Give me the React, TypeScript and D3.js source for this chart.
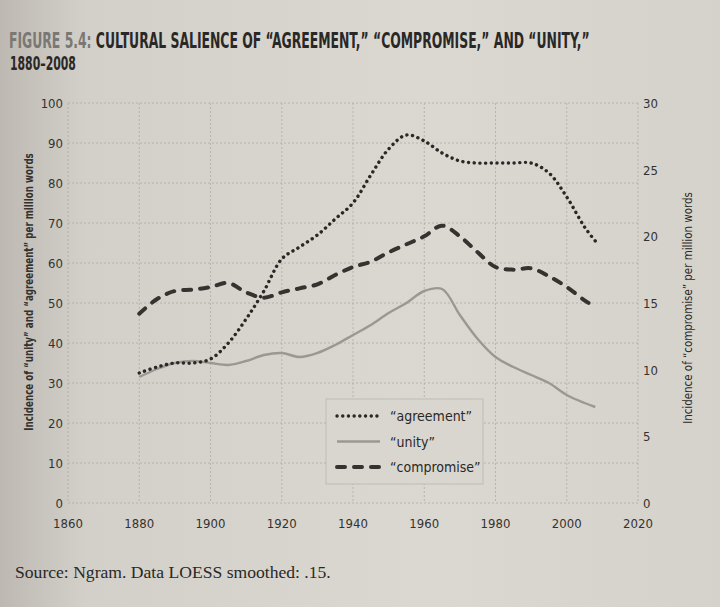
import React, { useEffect, useRef } from 'react';
import * as d3 from 'd3';

// values (LOESS-smoothed Ngram frequencies)
const years = [1880, 1885, 1890, 1895, 1900, 1905, 1910, 1915, 1920, 1925, 1930, 1935, 1940, 1945, 1950, 1955, 1960, 1965, 1970, 1975, 1980, 1985, 1990, 1995, 2000, 2005, 2008];
const agreement = [32.5, 34, 35, 35, 36, 40, 46, 53, 61, 64, 67, 71, 75, 82, 88.5, 92, 90.5, 87.5, 85.5, 85, 85, 85, 85, 82.5, 76.5, 69, 65.5];
const unity = [31.5, 33.5, 35, 35.5, 35, 34.5, 35.5, 37, 37.5, 36.5, 37.5, 39.5, 42, 44.5, 47.5, 50, 53, 53.5, 47, 41, 36.5, 34, 32, 30, 27, 25, 24];
const compromise = [14.2, 15.3, 15.9, 16, 16.2, 16.5, 15.8, 15.4, 15.8, 16.1, 16.4, 17.1, 17.7, 18.1, 18.8, 19.4, 20, 20.8, 20, 18.8, 17.7, 17.5, 17.6, 17, 16.2, 15.2, 14.7];

const xTicks = [1860, 1880, 1900, 1920, 1940, 1960, 1980, 2000, 2020];
const leftTicks = [0, 10, 20, 30, 40, 50, 60, 70, 80, 90, 100];
const rightTicks = [0, 5, 10, 15, 20, 25, 30];

const legendItems = ['\u201Cagreement\u201D', '\u201Cunity\u201D', '\u201Ccompromise\u201D'];

const condensed = "'Liberation Sans Narrow', 'DejaVu Sans Condensed', 'Roboto', sans-serif";

// squeeze/stretch a text horizontally so it spans `target` px
const fitText = (sel, x, y, target, rotate = 0) => {
  const len = (sel.node() as SVGTextElement).getComputedTextLength() || target;
  sel.attr('transform', `translate(${x},${y}) rotate(${rotate}) scale(${target / len},1)`);
};

const App = () => {
  const svgRef = useRef(null);

  useEffect(() => {
    const width = 720;
    const height = 607;
    const plot = { left: 68, right: 638, top: 103, bottom: 503 };

    d3.select(svgRef.current).selectAll('*').remove();

    const svg = d3.select(svgRef.current)
      .attr('width', width)
      .attr('height', height);

    // paper background
    const defs = svg.append('defs');
    const grad = defs.append('linearGradient').attr('id', 'paper').attr('x1', 0).attr('x2', 1).attr('y1', 0).attr('y2', 0);
    grad.append('stop').attr('offset', '0%').attr('stop-color', '#bdb9b2');
    grad.append('stop').attr('offset', '12%').attr('stop-color', '#d3d0ca');
    grad.append('stop').attr('offset', '60%').attr('stop-color', '#dbd8d2');
    grad.append('stop').attr('offset', '100%').attr('stop-color', '#d5d2cc');
    svg.append('rect').attr('width', width).attr('height', height).attr('fill', 'url(#paper)');

    // title
    const t1 = svg.append('text')
      .style('font-family', condensed).style('font-weight', 700).style('font-size', '21px')
      .attr('fill', '#2a2826');
    t1.append('tspan').attr('fill', '#7a7874').text('FIGURE 5.4: ');
    t1.append('tspan').text('CULTURAL SALIENCE OF \u201CAGREEMENT,\u201D \u201CCOMPROMISE,\u201D AND \u201CUNITY,\u201D');
    fitText(t1, 9, 48, 581);

    const t2 = svg.append('text')
      .style('font-family', condensed).style('font-weight', 700).style('font-size', '19px')
      .attr('fill', '#2a2826')
      .text('1880\u20132008');
    fitText(t2, 10, 70, 66);

    // scales
    const x = d3.scaleLinear().domain([1860, 2020]).range([plot.left, plot.right]);
    const yLeft = d3.scaleLinear().domain([0, 100]).range([plot.bottom, plot.top]);
    const yRight = d3.scaleLinear().domain([0, 30]).range([plot.bottom, plot.top]);

    // gridlines
    const grid = svg.append('g')
      .attr('stroke', '#aeaaa3')
      .attr('stroke-width', 0.8)
      .attr('stroke-dasharray', '2,2');
    grid.selectAll('line.v').data(xTicks).join('line')
      .attr('x1', d => x(d)).attr('x2', d => x(d))
      .attr('y1', plot.top).attr('y2', plot.bottom);
    grid.selectAll('line.h').data(leftTicks).join('line')
      .attr('x1', plot.left).attr('x2', plot.right)
      .attr('y1', d => yLeft(d)).attr('y2', d => yLeft(d));

    // axis labels
    const tickStyle = (sel) => sel
      .style('font-family', condensed).style('font-size', '13px').attr('fill', '#34322f');

    svg.append('g').selectAll('text').data(leftTicks).join('text')
      .attr('x', plot.left - 5).attr('y', d => yLeft(d) + 5)
      .attr('text-anchor', 'end')
      .call(tickStyle)
      .text(d => d);

    svg.append('g').selectAll('text').data(rightTicks).join('text')
      .attr('x', plot.right + 5).attr('y', d => yRight(d) + 5)
      .attr('text-anchor', 'start')
      .call(tickStyle)
      .text(d => d);

    svg.append('g').selectAll('text').data(xTicks).join('text')
      .attr('x', d => x(d)).attr('y', plot.bottom + 25)
      .attr('text-anchor', 'middle')
      .call(tickStyle)
      .text(d => d);

    const yl = svg.append('text')
      .attr('text-anchor', 'middle')
      .style('font-family', condensed).style('font-weight', 700).style('font-size', '11.5px')
      .attr('fill', '#34322f')
      .text('Incidence of \u201Cunity\u201D and \u201Cagreement\u201D per million words');
    fitText(yl, 33, 292, 278, -90);

    const yr = svg.append('text')
      .attr('text-anchor', 'middle')
      .style('font-family', condensed).style('font-size', '13px')
      .attr('fill', '#2a2826')
      .text('Incidence of \u201Ccompromise\u201D per million words');
    fitText(yr, 692, 308, 232, -90);

    // lines
    const lineLeft = d3.line<number>()
      .x((_, i) => x(years[i]))
      .y(d => yLeft(d))
      .curve(d3.curveCatmullRom);
    const lineRight = d3.line<number>()
      .x((_, i) => x(years[i]))
      .y(d => yRight(d))
      .curve(d3.curveCatmullRom);

    svg.append('path')
      .attr('d', lineLeft(unity))
      .attr('fill', 'none')
      .attr('stroke', '#9b9893')
      .attr('stroke-width', 2.4);

    svg.append('path')
      .attr('d', lineRight(compromise))
      .attr('fill', 'none')
      .attr('stroke', '#353330')
      .attr('stroke-width', 4)
      .attr('stroke-linecap', 'round')
      .attr('stroke-dasharray', '8,9');

    svg.append('path')
      .attr('d', lineLeft(agreement))
      .attr('fill', 'none')
      .attr('stroke', '#2a2826')
      .attr('stroke-width', 3.4)
      .attr('stroke-linecap', 'round')
      .attr('stroke-dasharray', '0.1,5.6');

    // legend
    const legend = svg.append('g').attr('transform', 'translate(326,399)');
    legend.append('rect')
      .attr('width', 157).attr('height', 85)
      .attr('fill', '#d9d6d0')
      .attr('stroke', '#b9b5ae').attr('stroke-width', 0.8);

    const legendStroke = [
      { color: '#2a2826', w: 3.4, dash: '0.1,5.6' },
      { color: '#9b9893', w: 2.4, dash: null },
      { color: '#353330', w: 4, dash: '8,9' }
    ];
    legendItems.forEach((label, i) => {
      const row = legend.append('g').attr('transform', `translate(0, ${17 + i * 25.5})`);
      const s = legendStroke[i];
      row.append('line')
        .attr('x1', 11).attr('x2', 54)
        .attr('stroke', s.color)
        .attr('stroke-width', s.w)
        .attr('stroke-linecap', s.dash ? 'round' : 'butt')
        .attr('stroke-dasharray', s.dash);
      row.append('text')
        .attr('x', 64).attr('y', 5)
        .style('font-family', condensed).style('font-size', '14px')
        .attr('fill', '#2a2826')
        .text(label);
    });

    // source note
    const src = svg.append('text')
      .style('font-family', "'Liberation Serif', 'DejaVu Serif', serif").style('font-size', '16px')
      .attr('fill', '#2a2826')
      .text('Source: Ngram. Data LOESS smoothed: .15.');
    fitText(src, 15, 578, 316);
  }, []);

  return (
    <svg ref={svgRef} style={{ position: 'absolute', left: 0, top: 0 }}></svg>
  );
};

export default App;
